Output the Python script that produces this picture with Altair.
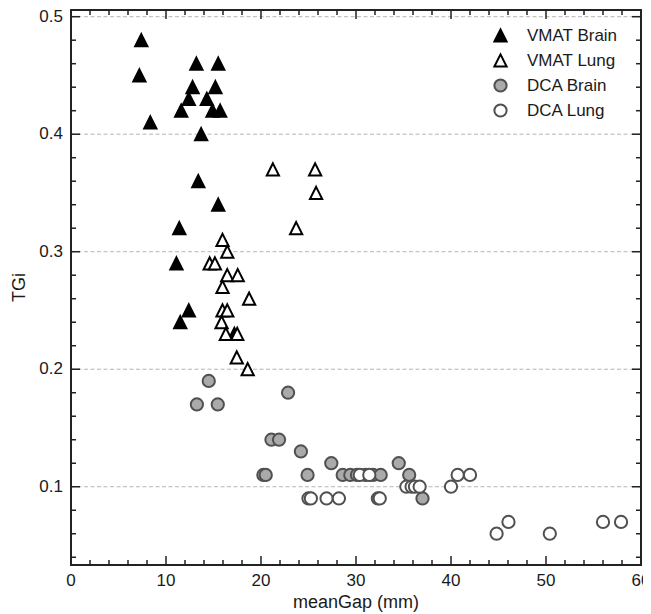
import altair as alt
import pandas as pd

# ---- data ----
series_names = ["VMAT Brain", "VMAT Lung", "DCA Brain", "DCA Lung"]

vmat_brain_gap = [7.4, 7.2, 8.35, 13.2, 15.5, 12.8, 15.2, 12.4, 14.3, 11.6, 14.9, 15.7,
                  13.7, 13.4, 15.5, 11.4, 11.1, 12.4, 11.5, 17.2]
vmat_brain_tgi = [0.48, 0.45, 0.41, 0.46, 0.46, 0.44, 0.44, 0.43, 0.43, 0.42, 0.42, 0.42,
                  0.40, 0.36, 0.34, 0.32, 0.29, 0.25, 0.24, 0.23]

vmat_lung_gap = [21.25, 25.7, 25.8, 23.7, 15.95, 16.45, 14.6, 15.15, 16.45, 17.55, 15.95,
                 18.75, 15.95, 16.45, 15.85, 16.3, 17.5, 17.45, 18.6]
vmat_lung_tgi = [0.37, 0.37, 0.35, 0.32, 0.31, 0.30, 0.29, 0.29, 0.28, 0.28, 0.27,
                 0.26, 0.25, 0.25, 0.24, 0.23, 0.23, 0.21, 0.20]

dca_brain_gap = [14.5, 13.25, 15.45, 22.85, 21.1, 21.9, 24.2, 20.25, 20.5, 24.9, 27.4,
                 28.6, 29.4, 30.1, 31.0, 31.8, 32.6, 34.5, 35.6, 37.0]
dca_brain_tgi = [0.19, 0.17, 0.17, 0.18, 0.14, 0.14, 0.13, 0.11, 0.11, 0.11, 0.12,
                 0.11, 0.11, 0.11, 0.11, 0.11, 0.11, 0.12, 0.11, 0.09]

dca_lung_gap = [25.0, 25.25, 26.9, 28.2, 32.3, 32.5, 30.4, 31.4, 35.3, 35.85, 36.2, 36.7,
                40.0, 40.7, 42.0, 44.8, 46.05, 50.4, 56.0, 57.9]
dca_lung_tgi = [0.09, 0.09, 0.09, 0.09, 0.09, 0.09, 0.11, 0.11, 0.10, 0.10, 0.10, 0.10,
                0.10, 0.11, 0.11, 0.06, 0.07, 0.06, 0.07, 0.07]

x_major = [0, 10, 20, 30, 40, 50, 60]
x_major_text = ["0", "10", "20", "30", "40", "50", "60"]
x_minor = [2, 4, 6, 8, 12, 14, 16, 18, 22, 24, 26, 28, 32, 34, 36, 38,
           42, 44, 46, 48, 52, 54, 56, 58]
y_major = [0.1, 0.2, 0.3, 0.4, 0.5]
y_major_text = ["0.1", "0.2", "0.3", "0.4", "0.5"]
y_minor = [0.04, 0.06, 0.08, 0.12, 0.14, 0.16, 0.18, 0.22, 0.24, 0.26, 0.28,
           0.32, 0.34, 0.36, 0.38, 0.42, 0.44, 0.46, 0.48]

x_title = "meanGap (mm)"
y_title = "TGi"

# ---- build table ----
rows = []
for name, gx, ty in [
    ("VMAT Brain", vmat_brain_gap, vmat_brain_tgi),
    ("VMAT Lung", vmat_lung_gap, vmat_lung_tgi),
    ("DCA Brain", dca_brain_gap, dca_brain_tgi),
    ("DCA Lung", dca_lung_gap, dca_lung_tgi),
]:
    for a, b in zip(gx, ty):
        rows.append({"series": name, "gap": a, "tgi": b})
df = pd.DataFrame(rows)

W, H = 570, 555
XDOM = [0, 60]
YDOM = [0.0334, 0.5057]
TRI = "M0,-1L1,1L-1,1Z"
FONT = "Liberation Sans"
TXT = "#1a1a1a"
FRAME = "#222222"

xsc = alt.Scale(domain=XDOM, nice=False, zero=False)
ysc = alt.Scale(domain=YDOM, nice=False, zero=False)

leg = alt.Legend(title=None, orient="none", legendX=421, legendY=17,
                 labelFont=FONT, labelFontSize=17, labelColor=TXT,
                 labelOffset=18, rowPadding=4, symbolStrokeWidth=2,
                 symbolOpacity=1)

# dashed horizontal grid
grid = alt.Chart(pd.DataFrame({"v": y_major})).mark_rule(
    color="#b5b5b5", strokeWidth=1, strokeDash=[4, 2.5]
).encode(y=alt.Y("v:Q", scale=ysc, axis=None), x=alt.value(0), x2=alt.value(W))

points = alt.Chart(df).mark_point(opacity=1, strokeWidth=2).encode(
    x=alt.X("gap:Q", scale=xsc, axis=None),
    y=alt.Y("tgi:Q", scale=ysc, axis=None),
    shape=alt.Shape("series:N", scale=alt.Scale(domain=series_names,
                    range=[TRI, TRI, "circle", "circle"]), legend=leg),
    fill=alt.Fill("series:N", scale=alt.Scale(domain=series_names,
                  range=["#000000", "#ffffff", "#aaaaaa", "#ffffff"]), legend=leg),
    stroke=alt.Stroke("series:N", scale=alt.Scale(domain=series_names,
                      range=["#000000", "#000000", "#505050", "#505050"]), legend=leg),
    size=alt.Size("series:N", scale=alt.Scale(domain=series_names,
                  range=[150, 150, 95, 95]), legend=leg),
)


def tick_layer(vals, axis, side, length):
    d = pd.DataFrame({"v": vals})
    if axis == "y":
        enc = dict(y=alt.Y("v:Q", scale=ysc, axis=None))
        if side == "left":
            enc.update(x=alt.value(0), x2=alt.value(length))
        else:
            enc.update(x=alt.value(W - length), x2=alt.value(W))
    else:
        enc = dict(x=alt.X("v:Q", scale=xsc, axis=None))
        if side == "bottom":
            enc.update(y=alt.value(H - length), y2=alt.value(H))
        else:
            enc.update(y=alt.value(0), y2=alt.value(length))
    return alt.Chart(d).mark_rule(color=FRAME, strokeWidth=1.5, opacity=1).encode(**enc)


ticks = [
    tick_layer(y_major, "y", "left", 9), tick_layer(y_minor, "y", "left", 5),
    tick_layer(y_major, "y", "right", 9), tick_layer(y_minor, "y", "right", 5),
    tick_layer(x_major, "x", "bottom", 9), tick_layer(x_minor, "x", "bottom", 5),
    tick_layer(x_major, "x", "top", 9), tick_layer(x_minor, "x", "top", 5),
]

# plot frame drawn on top
frame = alt.Chart(pd.DataFrame({"k": [0]})).mark_rect(
    filled=False, stroke=FRAME, strokeWidth=2, opacity=1
).encode(x=alt.value(0), x2=alt.value(W), y=alt.value(0), y2=alt.value(H))

# tick labels (text through the same scales)
y_labels = alt.Chart(pd.DataFrame({"v": y_major, "t": y_major_text})).mark_text(
    align="right", baseline="middle", font=FONT, fontSize=17, color=TXT
).encode(y=alt.Y("v:Q", scale=ysc, axis=None), x=alt.value(-8), text="t:N")

x_labels = alt.Chart(pd.DataFrame({"v": x_major, "t": x_major_text})).mark_text(
    align="center", baseline="middle", font=FONT, fontSize=17, color=TXT
).encode(x=alt.X("v:Q", scale=xsc, axis=None), y=alt.value(H + 16), text="t:N")

titles = alt.Chart(pd.DataFrame({"t": [x_title]})).mark_text(
    align="center", baseline="middle", font=FONT, fontSize=18, color=TXT
).encode(x=alt.value(W / 2), y=alt.value(H + 38), text="t:N")

ytitle = alt.Chart(pd.DataFrame({"t": [y_title]})).mark_text(
    align="center", baseline="middle", font=FONT, fontSize=18, color=TXT, angle=270
).encode(x=alt.value(-51), y=alt.value(H / 2), text="t:N")

chart = alt.layer(grid, points, *ticks, frame, y_labels, x_labels, titles, ytitle).properties(
    width=W, height=H,
    autosize=alt.AutoSizeParams(type="none"),
    padding={"left": 63, "top": 2, "right": 2, "bottom": 48},
).configure_view(
    stroke=FRAME, strokeWidth=2
)

chart.save("out.html", embed_options={"renderer": "svg", "actions": False})
